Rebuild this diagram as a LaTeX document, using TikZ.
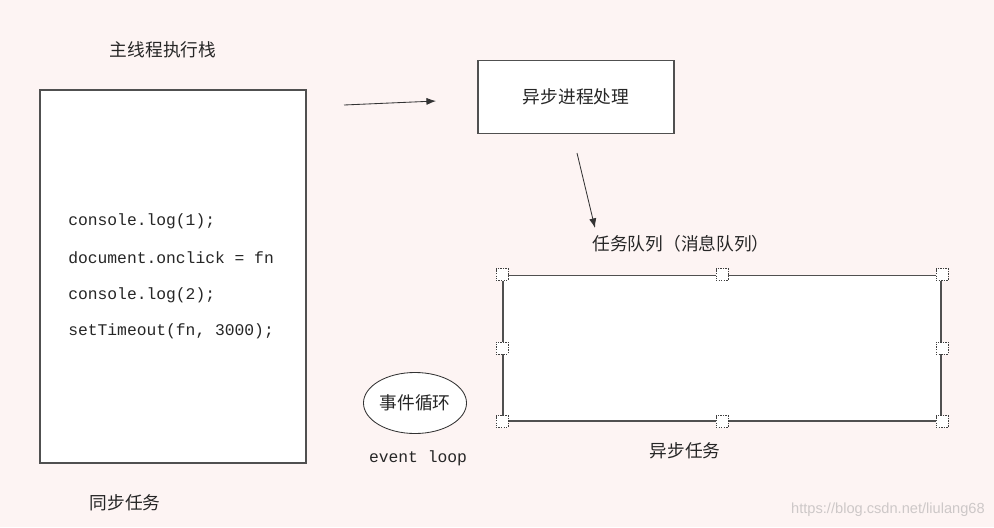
\documentclass[tikz,border=0pt]{standalone}
\usepackage{fontspec}
\setmonofont{Liberation Mono}
\newfontfamily\cjk{Noto Sans CJK SC}
\usetikzlibrary{arrows.meta,shapes.geometric}
\definecolor{pagebg}{RGB}{253,244,243}
\definecolor{boxline}{RGB}{80,80,80}
\definecolor{markgray}{RGB}{205,200,200}

\begin{document}
\begin{tikzpicture}[
  x=0.025cm, y=-0.025cm,
  box/.style={rectangle, draw=boxline, line width=1.4pt, fill=white, inner sep=0pt},
  cjktext/.style={font=\cjk\fontsize{12.6}{15}\selectfont, text=black!85, inner sep=0pt},
  code/.style={font=\ttfamily\fontsize{11.6}{14}\selectfont, text=black!85, anchor=west, inner sep=0pt},
  handle/.style={rectangle, draw=black!75, dash pattern=on 1pt off 0.8pt, line width=0.6pt, fill=white, minimum size=0.3cm, inner sep=0pt},
  arrow/.style={-{Latex[length=2.4mm,width=1.8mm]}, draw=black!80, line width=0.6pt},
]
  \fill[pagebg] (0,0) rectangle (994,527);
  \useasboundingbox (0,0) rectangle (994,527);

  % main thread stack
  \node[cjktext] (stacktitle) at (163,50) {主线程执行栈};
  \node[box, minimum width=6.65cm, minimum height=9.325cm] (stack) at (173,276.5) {};
  \node[code] (code1) at (68,221) {console.log(1);};
  \node[code] (code2) at (68,258) {document.onclick = fn};
  \node[code] (code3) at (68,295) {console.log(2);};
  \node[code] (code4) at (68,331) {setTimeout(fn, 3000);};
  \node[cjktext] (sync) at (125,503) {同步任务};

  % async handling
  \node[box, minimum width=4.9cm, minimum height=1.825cm, cjktext] (async) at (576,97) {异步进程处理};
  \coordinate (a1) at (344,105);
  \coordinate (a2) at (436,101);
  \draw[arrow] (a1) -- (a2);
  \coordinate (b1) at (577,153);
  \coordinate (b2) at (595,228);
  \draw[arrow] (b1) -- (b2);

  % task queue
  \node[cjktext] (queuetitle) at (681,244) {任务队列（消息队列）};
  \node[box, minimum width=10.95cm, minimum height=3.625cm] (queue) at (722,348) {};
  \foreach \a in {north west, north, north east, west, east, south west, south, south east}
    \node[handle] at (queue.\a) {};
  \node[cjktext] (asynctask) at (685,451) {异步任务};

  % event loop
  \node[ellipse, draw=black!80, line width=0.6pt, fill=white, minimum width=2.575cm, minimum height=1.525cm, cjktext] (loop) at (415,403) {事件循环};
  \node[font=\ttfamily\fontsize{11.6}{14}\selectfont, text=black!85, inner sep=0pt] (loopname) at (418,458) {event loop};

  % watermark
  \node[font=\fontspec{Liberation Sans}\fontsize{10.4}{12}\selectfont, text=markgray, anchor=east, inner sep=0pt] (mark) at (985,510) {https://blog.csdn.net/liulang68};
\end{tikzpicture}
\end{document}
